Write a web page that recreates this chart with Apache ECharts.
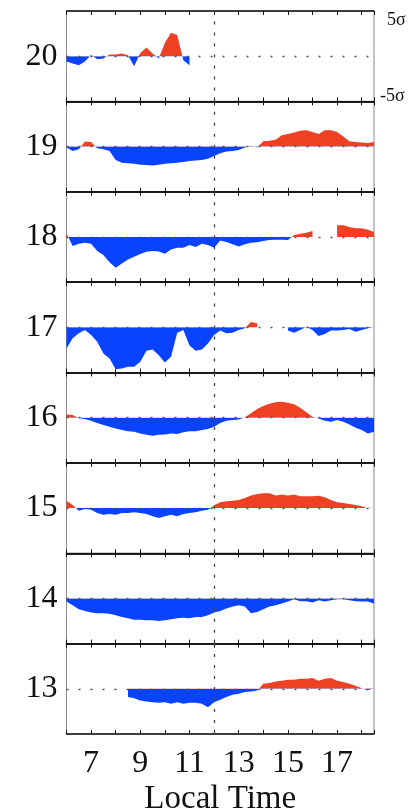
<!DOCTYPE html>
<html>
<head>
<meta charset="utf-8">
<script src="https://cdn.jsdelivr.net/npm/echarts@6/dist/echarts.min.js"></script>
<style>
  html, body { margin: 0; padding: 0; background: #fff; }
  #chart { width: 413px; height: 812px; }
</style>
</head>
<body>
<div id="chart"></div>
<script>
// Local time grid (hours), shared by every panel
const hours = [
  6, 6.25, 6.5, 6.75, 7, 7.25, 7.5, 7.75, 8, 8.25, 8.5, 8.75, 9, 9.25, 9.5, 9.75,
  10, 10.25, 10.5, 10.75, 11, 11.25, 11.5, 11.75, 12, 12.25, 12.5, 12.75, 13, 13.25,
  13.5, 13.75, 14, 14.25, 14.5, 14.75, 15, 15.25, 15.5, 15.75, 16, 16.25, 16.5, 16.75,
  17, 17.25, 17.5, 17.75, 18, 18.25, 18.5
];

// Bottom tick labels and the panel names
const tickLabels = ['7', '9', '11', '13', '15', '17'];
const panelLabels = ['20', '19', '18', '17', '16', '15', '14', '13'];
const sigmaLabels = ['5σ', '-5σ'];

// Anomaly (in sigma) per panel; null = no data
const p20 = [-0.6, -0.8, -1.0, -0.6, 0.15, -0.35, -0.25, 0.2, 0.2, 0.3, 0.1, -1.1, 0.35, 0.95, 0.3, -0.25,
  1.5, 2.6, 2.35, -0.45, -1.0, null, null, null, null, null, null, null, null, null,
  null, null, null, null, null, null, null, null, null, null, null, null, null, null,
  null, null, null, null, null, null, null];
const p19 = [-0.1, -0.5, -0.3, 0.55, 0.5, -0.2, -0.3, -0.5, -1.5, -1.8, -1.85, -1.9, -2.0, -2.05, -2.1, -2.0,
  -1.9, -1.85, -1.8, -1.7, -1.6, -1.55, -1.5, -1.35, -1.05, -0.75, -0.55, -0.5, -0.37, -0.1,
  0.1, -0.1, 0.6, 0.65, 0.75, 1.25, 1.4, 1.55, 1.75, 1.8, 1.6, 1.4, 1.8, 1.8,
  1.6, 1.1, 0.6, 0.5, 0.45, 0.4, 0.5];
const p18 = [0.4, -1.0, -0.75, -0.65, -0.75, -1.55, -2.0, -2.8, -3.4, -2.95, -2.5, -2.2, -1.9, -1.65, -1.55, -1.6,
  -1.85, -1.4, -1.2, -1.2, -0.9, -1.1, -0.75, -0.9, -1.2, -0.4, -0.55, -0.8, -1.05, -0.8,
  -0.65, -0.6, -0.45, -0.35, -0.3, -0.3, -0.35, 0.2, 0.35, 0.45, 0.65, null, null, null,
  1.3, 1.3, 1.1, 0.95, 0.95, 0.8, 0.55];
const p17 = [-2.35, -1.2, -0.65, -0.3, -0.85, -1.6, -2.9, -3.45, -4.65, -4.55, -4.35, -4.35, -3.8, -2.6, -2.45, -3.1,
  -3.9, -3.25, -0.6, -0.3, -2.0, -2.6, -2.45, -1.8, -0.85, -0.35, -0.65, -0.6, -0.3, -0.1,
  0.6, 0.45, null, null, null, null, -0.35, -0.6, -0.3, 0.05, -0.3, -0.95, -0.75, -0.35,
  -0.35, -0.3, -0.2, -0.5, -0.3, -0.1, 0.05];
const p16 = [0.35, 0.3, -0.05, -0.15, -0.35, -0.6, -0.8, -1.0, -1.2, -1.35, -1.5, -1.55, -1.75, -1.9, -2.0, -1.9,
  -1.85, -1.75, -1.8, -1.6, -1.5, -1.5, -1.35, -1.25, -1.0, -0.6, -0.35, -0.25, -0.2, 0.05,
  0.5, 0.95, 1.3, 1.55, 1.7, 1.75, 1.65, 1.5, 1.1, 0.6, 0.1, -0.1, -0.35, -0.45,
  -0.25, -0.45, -0.75, -1.1, -1.35, -1.75, -1.55];
const p15 = [0.8, 0.35, -0.3, -0.1, -0.2, -0.55, -0.75, -0.65, -0.75, -0.55, -0.55, -0.45, -0.55, -0.65, -0.9, -1.1,
  -0.9, -0.75, -0.9, -0.65, -0.55, -0.45, -0.3, -0.2, 0.3, 0.65, 0.75, 0.8, 0.9, 1.1,
  1.4, 1.55, 1.65, 1.65, 1.4, 1.5, 1.4, 1.5, 1.3, 1.3, 1.3, 1.35, 1.2, 0.9,
  0.65, 0.55, 0.45, 0.35, 0.2, -0.05, 0.2];
const p14 = [-0.35, -0.75, -1.2, -1.4, -1.55, -1.65, -1.65, -1.7, -1.85, -2.05, -2.2, -2.35, -2.35, -2.4, -2.4, -2.5,
  -2.4, -2.3, -2.2, -2.15, -2.2, -2.05, -2.05, -1.85, -1.55, -1.4, -1.1, -0.9, -0.75, -0.9,
  -1.65, -1.5, -1.2, -0.9, -0.75, -0.55, -0.35, -0.1, -0.3, -0.3, -0.45, -0.2, -0.35, -0.2,
  -0.1, -0.1, -0.2, -0.3, -0.35, -0.35, -0.55];
const p13 = [null, null, null, null, null, null, null, null, null, null, -0.9, -1.05, -1.3, -1.4, -1.5, -1.55,
  -1.5, -1.65, -1.5, -1.65, -1.55, -1.55, -1.65, -2.05, -1.5, -1.2, -0.9, -0.65, -0.55, -0.35,
  -0.3, -0.2, 0.55, 0.65, 0.8, 0.9, 1.0, 1.0, 1.1, 1.1, 1.2, 0.9, 1.1, 1.2,
  0.9, 0.75, 0.55, 0.35, 0.05, -0.15, 0.1];

const panels = [p20, p19, p18, p17, p16, p15, p14, p13];

const RED = '#ee4124';
const BLUE = '#0a43ff';
const FONT = '"Liberation Serif", "Times New Roman", serif';
const INK = '#111';

const top0 = 11;
const panelH = 90.375;
const gridLeft = 66.5;
const gridRight = 39;
const n = panels.length;
const last = n - 1;

const grid = [], xAxis = [], yAxis = [], series = [];

// Framed panels: border, hour ticks, panel label, zero and noon guides
panels.forEach((vals, i) => {
  grid.push({
    left: gridLeft, right: gridRight,
    top: top0 + i * panelH, height: panelH,
    outerBoundsMode: 'none',
    show: true, borderColor: '#8a8a8a', borderWidth: 1
  });
  const common = {
    gridIndex: i, type: 'value', min: 6, max: 18.5, interval: 1,
    splitLine: { show: false },
    axisLine: { onZero: false, lineStyle: { color: INK, width: 1.5 } },
    axisTick: { inside: true, length: 4, lineStyle: { color: INK, width: 1 } }
  };
  xAxis.push(Object.assign({}, common, {
    position: 'bottom',
    axisLabel: {
      show: i === last,
      formatter: v => tickLabels.includes(String(v)) ? String(v) : '',
      fontFamily: FONT, fontSize: 32, color: INK, margin: 14
    },
    name: i === last ? 'Local Time' : '',
    nameLocation: 'middle', nameGap: 49, nameMoveOverlap: false,
    nameTextStyle: { fontFamily: FONT, fontSize: 33, color: INK }
  }));
  xAxis.push(Object.assign({}, common, {
    position: 'top',
    axisLabel: { show: false }
  }));
  yAxis.push({
    gridIndex: i, type: 'value', min: -5, max: 5, interval: 5,
    axisLine: { show: false }, axisTick: { show: false }, splitLine: { show: false },
    axisLabel: {
      formatter: v => v === 0 ? panelLabels[i] : '',
      fontFamily: FONT, fontSize: 32, color: INK, margin: 9
    }
  });
  series.push({
    type: 'line', xAxisIndex: 2 * i, yAxisIndex: i, data: [], z: 5, silent: true,
    markLine: {
      silent: true, symbol: ['none', 'none'], label: { show: false }, animation: false,
      lineStyle: { color: '#555', width: 1.3, type: [2, 10] },
      data: [
        { yAxis: 0 },
        { xAxis: 12, lineStyle: { color: '#444', width: 1.3, type: [3, 8] } }
      ]
    }
  });
});

// sigma scale on the right of the top panel
yAxis.push({
  gridIndex: 0, type: 'value', position: 'right', min: -5, max: 5, interval: 10,
  axisLine: { show: false }, axisTick: { show: false }, splitLine: { show: false },
  axisLabel: {
    margin: 6,
    formatter: v => v === 5 ? '{t|' + sigmaLabels[0] + '}' : (v === -5 ? '{b|' + sigmaLabels[1] + '}' : ''),
    rich: {
      t: { fontFamily: FONT, fontSize: 18, color: INK, padding: [18, 0, 0, 7] },
      b: { fontFamily: FONT, fontSize: 18, color: INK, padding: [0, 0, 10, 0] }
    }
  }
});

// Data layers: each panel is split at zero into an upper (red) and a lower (blue)
// half; each half clips the same curve, so positive and negative parts fill exactly.
panels.forEach((vals, i) => {
  const halves = [
    { top: top0 + i * panelH, min: 0, max: 5, color: RED },
    { top: top0 + i * panelH + panelH / 2, min: -5, max: 0, color: BLUE }
  ];
  halves.forEach(hf => {
    const g = grid.length;
    grid.push({
      left: gridLeft, right: gridRight, top: hf.top, height: panelH / 2,
      outerBoundsMode: 'none', show: false
    });
    xAxis.push({ gridIndex: g, type: 'value', min: 6, max: 18.5, show: false });
    yAxis.push({ gridIndex: g, type: 'value', min: hf.min, max: hf.max, show: false });
    series.push({
      type: 'line',
      xAxisIndex: xAxis.length - 1, yAxisIndex: yAxis.length - 1,
      data: hours.map((h, k) => [h, vals[k] === null ? '-' : vals[k]]),
      showSymbol: false, connectNulls: false, silent: true, clip: true,
      color: hf.color,
      lineStyle: { width: 0.01, color: hf.color },
      areaStyle: { opacity: 1, color: hf.color, origin: 0 },
      z: 2
    });
  });
});

const chart = echarts.init(document.getElementById('chart'), null, { renderer: 'canvas' });
chart.setOption({
  animation: false,
  backgroundColor: '#fff',
  grid, xAxis, yAxis, series
});
</script>
</body>
</html>
